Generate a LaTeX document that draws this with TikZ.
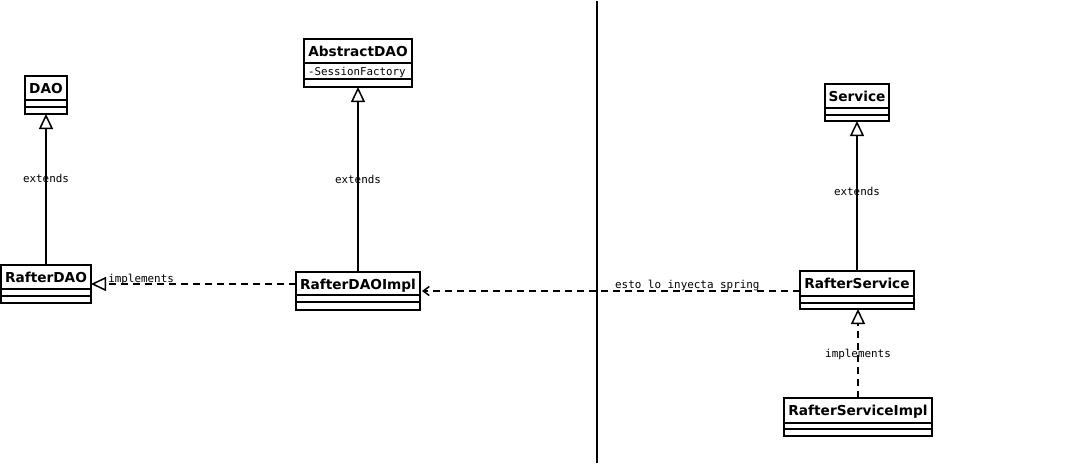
\documentclass[tikz,border=0pt]{standalone}
\usepackage{fontspec}
\setmainfont{DejaVu Sans}
\newfontfamily\classfont{DejaVu Sans}
\newfontfamily\labelfont{DejaVu Sans Mono}
\usetikzlibrary{arrows.meta}

\tikzset{
  classbox/.style={draw, rectangle, line width=1.6pt, inner sep=0pt, outer sep=0pt},
  rule/.style={line width=1.6pt},
  classname/.style={anchor=base, inner sep=0pt, font=\classfont\bfseries\fontsize{13.7}{16}\selectfont},
  attr/.style={anchor=base west, inner sep=0pt, font=\labelfont\fontsize{10.8}{12}\selectfont},
  edgelabel/.style={inner sep=0pt, font=\labelfont\fontsize{10.9}{12}\selectfont},
  inherit/.style={line width=1.8pt, -{Triangle[open, length=15pt, width=14pt, line width=1.5pt]}},
  realize/.style={line width=1.8pt, dash pattern=on 7pt off 5pt, -{Triangle[open, length=15pt, width=14pt, line width=1.5pt]}},
  uses/.style={line width=1.8pt, dash pattern=on 7pt off 5pt, -{Straight Barb[length=6pt, width=9pt, line width=1.5pt]}},
  divider/.style={line width=1.8pt}
}

% class box: name, left, top, right, bottom, first rule, second rule, title
\newcommand\umlclass[8]{%
  \node[classbox, minimum width={(#4-#2)*1pt}, minimum height={(#5-#3)*1pt}]
    (#1) at ({(#2+#4)/2},{(#3+#5)/2}) {};
  \draw[rule] (#2,#6) -- (#4,#6);
  \draw[rule] (#2,#7) -- (#4,#7);
  \node[classname] (#1-title) at ({(#2+#4)/2},{#3+17}) {#8};
}

\begin{document}
\begin{tikzpicture}[x=1pt, y=-1pt]
  \useasboundingbox (0,0) rectangle (1091,466);

  % DAO layer
  \umlclass{dao}{25}{76}{67}{114}{100}{107}{DAO}
  \umlclass{rafterdao}{1}{265}{91}{303}{289}{296}{RafterDAO}
  \umlclass{abstractdao}{304}{39}{412}{87}{63}{79}{AbstractDAO}
  \node[attr] (sf) at (308,75) {-SessionFactory};
  \umlclass{rafterdaoimpl}{296}{272}{420}{310}{295}{302}{RafterDAOImpl}

  % service layer
  \umlclass{service}{825}{84}{889}{121}{108}{115}{Service}
  \umlclass{rafterservice}{800}{271}{914}{309}{296}{303}{RafterService}
  \umlclass{rafterserviceimpl}{784}{398}{932}{436}{423}{429}{RafterServiceImpl}

  % separator between the layers
  \coordinate (sepTop) at (597,1);
  \coordinate (sepBottom) at (597,463);
  \draw[divider] (sepTop) -- (sepBottom);

  % relations
  \draw[inherit] (rafterdao.north -| dao.south) -- (dao.south)
    node[edgelabel, pos=0.576] {extends};
  \draw[inherit] (rafterdaoimpl.north) -- (abstractdao.south)
    node[edgelabel, pos=0.503] {extends};
  \draw[inherit] (rafterservice.north) -- (service.south)
    node[edgelabel, pos=0.533] {extends};
  \draw[realize] (rafterserviceimpl.north) -- (rafterserviceimpl.north |- rafterservice.south)
    node[edgelabel, pos=0.494] {implements};
  \draw[realize] (rafterdaoimpl.west |- rafterdao.east) -- (rafterdao.east)
    node[edgelabel, anchor=base west, pos=0.92, yshift=2pt] {implements};
  \draw[uses] (rafterservice.west |- rafterdaoimpl.east) -- ([xshift=2pt]rafterdaoimpl.east)
    node[edgelabel, anchor=base, pos=0.298, yshift=2.5pt] {esto lo inyecta spring};
\end{tikzpicture}
\end{document}
